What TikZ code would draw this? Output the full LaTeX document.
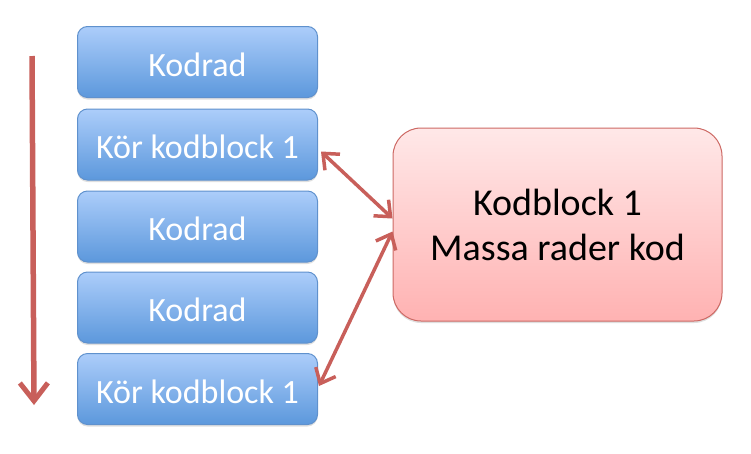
\documentclass[tikz,border=0pt]{standalone}
\usepackage{fontspec}
\setmainfont{Carlito}
\usetikzlibrary{arrows.meta,shadows}
\definecolor{arrowred}{RGB}{200,95,90}
\definecolor{bluetop}{RGB}{172,205,250}
\definecolor{bluebot}{RGB}{92,152,220}
\definecolor{blueedge}{RGB}{95,145,205}
\definecolor{redtop}{RGB}{255,232,232}
\definecolor{redbot}{RGB}{255,178,178}
\definecolor{rededge}{RGB}{205,105,100}
\tikzset{
  codebox/.style={draw=blueedge, line width=1pt, rounded corners=10pt,
    top color=bluetop, bottom color=bluebot, minimum width=240pt, minimum height=71pt,
    inner sep=0pt, text=white, font=\fontsize{34}{40}\selectfont,
    text height=29pt, text depth=1pt,
    drop shadow={shadow xshift=0pt, shadow yshift=-2pt, opacity=0.25}},
  bigbox/.style={draw=rededge, line width=1pt, rounded corners=28pt,
    top color=redtop, bottom color=redbot, minimum width=329pt, minimum height=193pt,
    inner sep=0pt, text=black, align=center, font=\fontsize{38}{45}\selectfont,
    drop shadow={shadow xshift=0pt, shadow yshift=-2pt, opacity=0.25}},
  link/.style={draw=arrowred, line width=3.5pt, line cap=round,
    {Straight Barb[length=13pt,width=22pt,line width=3.5pt]}-{Straight Barb[length=13pt,width=22pt,line width=3.5pt]}},
  flow/.style={draw=arrowred, line width=5.5pt,
    -{Straight Barb[length=18pt,width=28pt,line width=5pt]}}
}
\begin{document}
\begin{tikzpicture}[x=1pt,y=-1pt]
\useasboundingbox (0,0) rectangle (751,453);
\node[codebox] (k1) at (197.5,62) {Kodrad};
\node[codebox] (k2) at (197.5,144.5) {Kör kodblock 1};
\node[codebox] (k3) at (197.5,226.5) {Kodrad};
\node[codebox] (k4) at (197.5,307.5) {Kodrad};
\node[codebox] (k5) at (197.5,389) {Kör kodblock 1};
\node[bigbox] (big) at (557.5,224.5) {Kodblock 1\\Massa rader kod};
\coordinate (fs) at (32,56);
\coordinate (fe) at (34,405);
\draw[flow] (fs) -- (fe);
\draw[link] ([shift={(3,7)}]k2.east) -- ([shift={(0,-6)}]big.west);
\draw[link] ([shift={(0,7)}]big.west) -- ([shift={(1,-3)}]k5.east);
\end{tikzpicture}
\end{document}
